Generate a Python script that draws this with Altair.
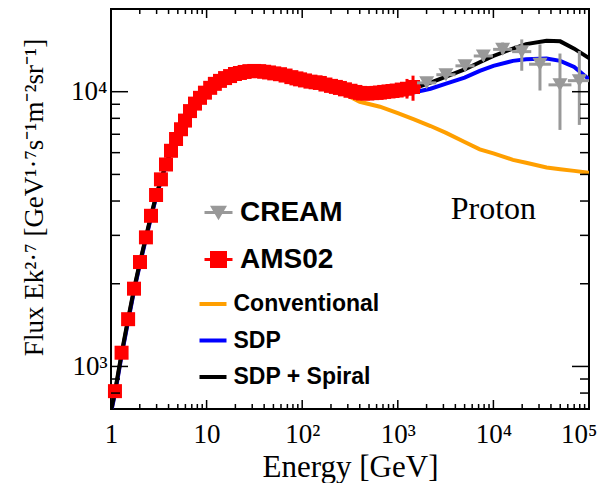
import altair as alt
import pandas as pd

# ---------------- data ----------------
# AMS02 proton flux (E in GeV, Flux*E^2.7)
ams_e = [1.10, 1.29, 1.51, 1.74, 2.01, 2.32, 2.62, 2.96, 3.33, 3.76,
         4.24, 4.79, 5.40, 5.94, 6.70, 7.56, 8.53, 9.61, 10.9, 12.2,
         13.8, 15.6, 17.6, 19.8, 22.3, 25.0, 28.0, 31.5, 35.5, 40.0,
         45.0, 51.0, 58.6, 67.0, 77.0, 87.0, 95.0, 107, 122, 138,
         153, 175, 200, 225, 248, 280, 320, 360, 402, 432,
         480, 540, 600, 650, 720, 800, 880, 973, 1100, 1248, 1443]
ams_f = [813, 1122, 1486, 1919, 2399, 2950, 3535, 4207, 4797, 5433,
         6095, 6726, 7300, 7850, 8500, 9050, 9500, 9920, 10330, 10680,
         10950, 11210, 11400, 11600, 11700, 11800, 11880, 11900, 11880, 11820,
         11750, 11660, 11580, 11450, 11300, 11180, 11090, 10990, 10880, 10820,
         10760, 10620, 10500, 10410, 10320, 10200, 10080, 9980, 9900, 9850,
         9850, 9880, 9900, 9930, 9980, 10020, 10060, 10100, 10180, 10250, 10400]
ams_err_e = [1248, 1443]
ams_err_lo = [9440, 9270]
ams_err_hi = [11130, 11440]
ams_xerr_f = [10400]
ams_xerr_lo = [1190]
ams_xerr_hi = [1750]

# CREAM
cream_e = [2005, 3190, 5050, 7850, 12500, 19800, 30700, 49700, 79200]
cream_f = [10770, 11530, 12420, 13490, 14260, 13990, 12590, 10590, 10970]
cream_lo = [10500, 11200, 12000, 12950, 13680, 11920, 10100, 7260, 7570]
cream_hi = [11050, 11850, 12850, 14050, 15100, 15500, 14860, 13770, 14060]
cream_elo = [1590, 2530, 4010, 6230, 9930, 15700, 23600, 37700, 60100]
cream_ehi = [2520, 4020, 6360, 9890, 15700, 24900, 39900, 65500, 100000]

# model curves
curve_e = [1.0, 1.1, 1.3, 1.5, 1.75, 2.0, 2.3, 2.6, 3.0, 3.5,
           4.0, 5.0, 6.0, 7.0, 8.5, 10, 12, 15, 20, 28,
           40, 60, 100, 150, 250, 400, 650, 1000, 1500, 2200,
           3200, 5000, 7200, 10000, 16000, 22000, 36000, 50000, 70000, 100000]
conventional = [685, 800, 1120, 1455, 1910, 2360, 2900, 3470, 4220, 5020,
                5750, 6970, 7920, 8720, 9470, 10120, 10620, 11120, 11560, 11800,
                11780, 11480, 10950, 10600, 10000, 9190, 8816, 8350, 7920, 7500,
                7080, 6560, 6170, 5960, 5650, 5510, 5300, 5225, 5150, 5070]
sdp = [680, 795, 1110, 1445, 1900, 2345, 2880, 3450, 4200, 5000,
       5730, 6950, 7900, 8700, 9460, 10120, 10620, 11130, 11580, 11840,
       11810, 11540, 11040, 10740, 10290, 9870, 9780, 9760, 9950, 10250,
       10700, 11250, 11900, 12420, 12950, 13130, 13200, 12950, 12300, 11100]
sdp_spiral = [690, 810, 1130, 1470, 1930, 2380, 2920, 3500, 4250, 5050,
              5780, 7000, 7950, 8750, 9500, 10150, 10650, 11150, 11600, 11850,
              11820, 11550, 11050, 10750, 10300, 9900, 9850, 9950, 10300, 10800,
              11350, 12050, 12800, 13490, 14350, 14900, 15320, 15250, 14350, 13250]
model_names = ["Conventional", "SDP", "SDP + Spiral"]
model_colors = ["#ff9f00", "#0000ff", "#000000"]

# axis ticks / labels
x_tick_vals = [1, 10, 100, 1000, 10000, 100000]
x_tick_text = ["1", "10", "10²", "10³", "10⁴", "10⁵"]
y_tick_vals = [1000, 10000]
y_tick_text = ["10³", "10⁴"]
x_major = [10, 100, 1000, 10000]
x_minor = [2, 3, 4, 5, 6, 7, 8, 9, 20, 30, 40, 50, 60, 70, 80, 90,
           200, 300, 400, 500, 600, 700, 800, 900,
           2000, 3000, 4000, 5000, 6000, 7000, 8000, 9000,
           20000, 30000, 40000, 50000, 60000, 70000, 80000, 90000]
y_major = [1000, 10000]
y_minor = [800, 900, 2000, 3000, 4000, 5000, 6000, 7000, 8000, 9000]

proton_e = [10000]
proton_f = [3430]
proton_text = ["Proton"]

# ---------------- chart ----------------
W, H = 478, 400
GRAY = "#999999"
SERIF = "Liberation Serif"
SANS = "Liberation Sans"


def label_expr(vals, texts):
    expr = "''"
    for v, t in reversed(list(zip(vals, texts))):
        expr = f"datum.value == {v} ? '{t}' : ({expr})"
    return expr


x_scale = alt.Scale(type="log", domain=[1, 100000], nice=False)
y_scale = alt.Scale(type="log", domain=[700, 20000], nice=False)

x_axis = alt.Axis(values=x_tick_vals, labelExpr=label_expr(x_tick_vals, x_tick_text),
                  ticks=False, domain=False, grid=False,
                  labelFont=SERIF, labelFontSize=27, labelColor="black",
                  labelPadding=33, labelFlush=False, labelOverlap=False,
                  labelBaseline="alphabetic",
                  labelAlign={"condition": {"test": "datum.value == 100000", "value": "right"},
                              "value": "center"},
                  labelOffset={"condition": {"test": "datum.value == 100000", "value": 8},
                               "value": 0},
                  title="Energy [GeV]", titleFont=SERIF, titleFontSize=31,
                  titleFontWeight="normal", titleColor="black",
                  titleX=W / 2, titleY=67, titleBaseline="alphabetic", titleAlign="center")
y_axis = alt.Axis(values=y_tick_vals, labelExpr=label_expr(y_tick_vals, y_tick_text),
                  ticks=False, domain=False, grid=False,
                  labelFont=SERIF, labelFontSize=27, labelColor="black",
                  labelPadding=4, labelFlush=False, labelOverlap=False,
                  labelBaseline="middle",
                  title="Flux Ek²·⁷ [GeV¹·⁷s⁻¹m⁻²sr⁻¹]", titleFont=SERIF, titleFontSize=27,
                  titleFontWeight="normal", titleColor="black", titleAngle=-90,
                  titleX=-69, titleY=188, titleBaseline="alphabetic", titleAlign="center")


def X(field="E"):
    return alt.X(f"{field}:Q", scale=x_scale, axis=x_axis, title="Energy [GeV]")


def Y(field="F"):
    return alt.Y(f"{field}:Q", scale=y_scale, axis=y_axis, title="Flux Ek²·⁷ [GeV¹·⁷s⁻¹m⁻²sr⁻¹]")


line_legend = alt.Legend(orient="none", legendX=86.5, legendY=279.5, title=None,
                         symbolType="stroke", symbolSize=729, symbolStrokeWidth=4,
                         labelFont=SANS, labelFontSize=23, labelFontWeight="bold",
                         labelColor="black", labelOffset=5, rowPadding=8.5, padding=0)
stroke_enc = alt.Stroke("model:N", scale=alt.Scale(domain=model_names, range=model_colors),
                        legend=line_legend)

layers = []
for name, vals in zip(model_names, [conventional, sdp, sdp_spiral]):
    df = pd.DataFrame({"E": curve_e, "F": vals, "model": name})
    layers.append(alt.Chart(df).mark_line(strokeWidth=4, clip=True).encode(
        x=X(), y=Y(), stroke=stroke_enc))

# AMS02
ams_df = pd.DataFrame({"E": ams_e, "F": ams_f, "series": "AMS02"})
ams_err_df = pd.DataFrame({"E": ams_err_e, "F": ams_err_lo, "F2": ams_err_hi})
ams_xerr_df = pd.DataFrame({"E": ams_xerr_lo, "E2": ams_xerr_hi, "F": ams_xerr_f})
layers.append(alt.Chart(ams_err_df).mark_rule(color="red", strokeWidth=3).encode(
    x=X(), y=Y(), y2="F2:Q"))
layers.append(alt.Chart(ams_xerr_df).mark_rule(color="red", strokeWidth=3).encode(
    x=X(), x2="E2:Q", y=Y()))
AMS_SYM = "M-1,0H1M-0.5,-0.5H0.5V0.5H-0.5Z"
layers.append(alt.Chart(ams_df).mark_point(shape="square", filled=True, size=196,
                                           opacity=1, strokeWidth=0).encode(
    x=X(), y=Y(),
    color=alt.Color("series:N", scale=alt.Scale(domain=["AMS02"], range=["red"]),
                    legend=alt.Legend(orient="none", legendX=92, legendY=235, title=None,
                                      symbolType=AMS_SYM, symbolSize=784,
                                      symbolStrokeColor="red", symbolStrokeWidth=3,
                                      symbolFillColor="red", symbolOpacity=1,
                                      labelFont=SANS, labelFontSize=28, labelFontWeight="bold",
                                      labelColor="black", labelOffset=6, padding=0))))

# CREAM
cream_df = pd.DataFrame({"E": cream_e, "F": cream_f, "series": "CREAM"})
cream_err_df = pd.DataFrame({"E": cream_e, "F": cream_lo, "F2": cream_hi})
cream_xerr_df = pd.DataFrame({"E": cream_elo, "E2": cream_ehi, "F": cream_f})
layers.append(alt.Chart(cream_err_df).mark_rule(color=GRAY, strokeWidth=3).encode(
    x=X(), y=Y(), y2="F2:Q"))
layers.append(alt.Chart(cream_xerr_df).mark_rule(color=GRAY, strokeWidth=3).encode(
    x=X(), x2="E2:Q", y=Y()))
CREAM_SYM = "M-1,0H1M-0.42,-0.38H0.42L0,0.34Z"
layers.append(alt.Chart(cream_df).mark_point(shape="triangle-down", filled=True, size=225,
                                             opacity=1, strokeWidth=0).encode(
    x=X(), y=Y(),
    fill=alt.Fill("series:N", scale=alt.Scale(domain=["CREAM"], range=[GRAY]),
                  legend=alt.Legend(orient="none", legendX=92, legendY=188, title=None,
                                    symbolType=CREAM_SYM, symbolSize=784,
                                    symbolStrokeColor=GRAY, symbolStrokeWidth=3,
                                    symbolFillColor=GRAY, symbolOpacity=1,
                                    labelFont=SANS, labelFontSize=28, labelFontWeight="bold",
                                    labelColor="black", labelOffset=6, padding=0))))

# inward ticks on all four sides
def xticks(vals, length):
    df = pd.DataFrame({"E": vals})
    bot = alt.Chart(df).mark_rule(color="black", strokeWidth=1.5).encode(
        x=X(), y=alt.value(H), y2=alt.value(H - length))
    top = alt.Chart(df).mark_rule(color="black", strokeWidth=1.5).encode(
        x=X(), y=alt.value(0), y2=alt.value(length))
    return [bot, top]


def yticks(vals, length):
    df = pd.DataFrame({"F": vals})
    left = alt.Chart(df).mark_rule(color="black", strokeWidth=1.5).encode(
        y=Y(), x=alt.value(0), x2=alt.value(length))
    right = alt.Chart(df).mark_rule(color="black", strokeWidth=1.5).encode(
        y=Y(), x=alt.value(W), x2=alt.value(W - length))
    return [left, right]


layers += xticks(x_major, 9) + xticks(x_minor, 5) + yticks(y_major, 17) + yticks(y_minor, 9)

proton_df = pd.DataFrame({"E": proton_e, "F": proton_f, "t": proton_text})
layers.append(alt.Chart(proton_df).mark_text(font=SERIF, fontSize=32, color="black",
                                             align="center", baseline="alphabetic").encode(
    x=X(), y=Y(), text="t:N"))

chart = alt.layer(*layers).properties(
    width=W, height=H,
    autosize=alt.AutoSizeParams(type="none"),
    padding={"left": 103, "top": 1, "right": 9, "bottom": 74},
    background="white",
).configure_view(stroke="black", strokeWidth=2)

chart.save("out.html", embed_options={"renderer": "svg", "actions": False})
